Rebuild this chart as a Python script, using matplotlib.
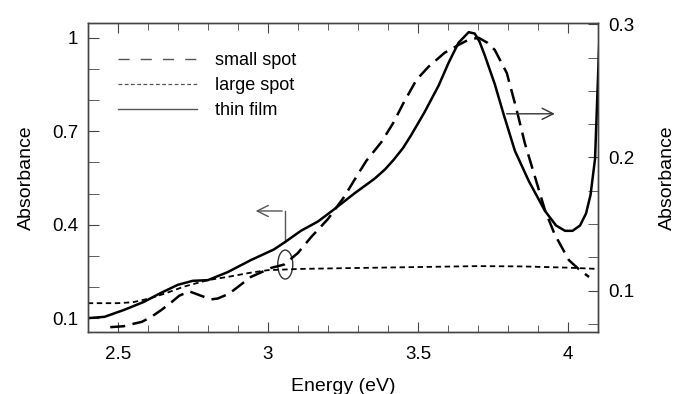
import numpy as np
import matplotlib.pyplot as plt
from matplotlib.lines import Line2D
from matplotlib.patches import Ellipse

plt.rcParams['font.family'] = ['Liberation Sans', 'DejaVu Sans']

# thin film (right axis)
film_e = [2.40, 2.456, 2.52, 2.587, 2.64, 2.70, 2.75, 2.80, 2.866, 2.943, 3.02, 3.06,
          3.11, 3.167, 3.22, 3.288, 3.355, 3.39, 3.418, 3.45, 3.478, 3.522, 3.569, 3.602,
          3.635, 3.669, 3.689, 3.705, 3.722, 3.756, 3.786, 3.823, 3.87, 3.923, 3.96,
          3.99, 4.015, 4.04, 4.06, 4.075, 4.09, 4.105]
film_a = [0.0795, 0.0805, 0.0856, 0.0917, 0.098, 0.1045, 0.1075, 0.108, 0.114, 0.123, 0.131, 0.137,
          0.145, 0.152, 0.161, 0.173, 0.184, 0.191, 0.198, 0.207, 0.217, 0.234, 0.254, 0.271,
          0.286, 0.294, 0.293, 0.287, 0.277, 0.255, 0.232, 0.205, 0.182, 0.160, 0.149,
          0.145, 0.145, 0.149, 0.158, 0.172, 0.199, 0.292]

# small spot (left axis)
small_e = [2.475, 2.52, 2.553, 2.58, 2.61, 2.645, 2.68, 2.705, 2.738, 2.766, 2.81, 2.833,
           2.87, 2.90, 2.943, 3.01, 3.054, 3.10, 3.144, 3.20, 3.254, 3.288, 3.328, 3.378,
           3.418, 3.452, 3.495, 3.535, 3.589, 3.635, 3.669, 3.702, 3.73, 3.756, 3.796,
           3.829, 3.856, 3.89, 3.923, 3.955, 4.003, 4.035, 4.07]
small_a = [0.071, 0.074, 0.082, 0.088, 0.103, 0.126, 0.152, 0.172, 0.186, 0.176, 0.160, 0.163,
           0.178, 0.200, 0.232, 0.261, 0.272, 0.309, 0.360, 0.418, 0.489, 0.543, 0.605, 0.665,
           0.727, 0.791, 0.865, 0.907, 0.952, 0.977, 0.994, 1.000, 0.985, 0.961, 0.887,
           0.768, 0.662, 0.553, 0.447, 0.370, 0.286, 0.258, 0.232]

# large spot (left axis)
large_e = [2.40, 2.50, 2.55, 2.61, 2.66, 2.72, 2.80, 2.87, 2.943, 3.00, 3.054, 3.11,
           3.23, 3.50, 3.70, 3.85, 4.00, 4.10]
large_a = [0.148, 0.148, 0.151, 0.164, 0.180, 0.201, 0.222, 0.233, 0.246, 0.254, 0.256, 0.258,
           0.260, 0.264, 0.267, 0.266, 0.262, 0.258]

fig = plt.figure(figsize=(6.75, 3.94), dpi=100)
ax = fig.add_axes([0.130, 0.157, 0.756, 0.785])
ax2 = ax.twinx()

ax.plot(small_e, small_a, color='black', lw=1.8, ls=(0, (6, 3)))
ax.plot(large_e, large_a, color='black', lw=1.3, ls=(0, (3, 2)))
ax2.plot(film_e, film_a, color='black', lw=1.8)

ax.set_xlim(2.4, 4.1)
ax.set_ylim(0.055, 1.048)
ax2.set_ylim(0.069, 0.301)

ax.set_xticks([2.5, 3, 3.5, 4])
ax.set_xticklabels(['2.5', '3', '3.5', '4'])
ax.set_xticks(np.arange(2.4, 4.11, 0.1), minor=True)
ax.set_yticks([0.1, 0.4, 0.7, 1.0])
ax.set_yticklabels(['0.1', '0.4', '0.7', '1'])
ax.set_yticks(np.arange(0.1, 1.01, 0.1), minor=True)
ax2.set_yticks([0.1, 0.2, 0.3])
ax2.set_yticklabels(['0.1', '0.2', '0.3'])
ax2.set_yticks(np.arange(0.075, 0.301, 0.025), minor=True)

edge = '#444444'
for a in (ax, ax2):
    for s in a.spines.values():
        s.set_color(edge)
        s.set_linewidth(1.0)
ax.tick_params(axis='both', which='both', direction='in', color=edge, labelsize=13.5)
ax.tick_params(axis='x', which='both', top=True, pad=10)
ax.tick_params(axis='x', which='major', length=7)
ax.tick_params(axis='x', which='minor', length=5)
ax.tick_params(axis='y', which='both', length=8, pad=7)
ax2.tick_params(axis='y', which='both', direction='in', length=7, color=edge,
                labelsize=13.5, pad=7)

ax.set_xlabel('Energy (eV)', fontsize=14, labelpad=11)
ax.set_ylabel('Absorbance', fontsize=14, labelpad=12)
ax2.set_ylabel('Absorbance', fontsize=14, rotation=90, labelpad=18)

# annotation arrows
ax.annotate('', xy=(2.95, 0.444), xytext=(3.057, 0.444),
            arrowprops=dict(arrowstyle='->', color='#555555', lw=1, mutation_scale=20))
ax.plot([3.057, 3.057], [0.444, 0.344], color='#555555', lw=1)
ax.add_patch(Ellipse((3.058, 0.272), 0.05, 0.093, fill=False, color='#333333', lw=1))
ax.annotate('', xy=(3.965, 0.756), xytext=(3.786, 0.756),
            arrowprops=dict(arrowstyle='->', color='#333333', lw=1, mutation_scale=20))

handles = [Line2D([], [], color='#555555', lw=1, ls=(0, (8, 8))),
           Line2D([], [], color='#555555', lw=0.9, ls=(0, (3, 2))),
           Line2D([], [], color='#555555', lw=1)]
ax.legend(handles, ['small spot', 'large spot', 'thin film'], loc='upper left',
          bbox_to_anchor=(0.059, 0.905), frameon=False, fontsize=13,
          handlelength=4.4, labelspacing=0.45, handletextpad=1.0,
          borderpad=0, borderaxespad=0)

fig.savefig('out.png', dpi=100)
